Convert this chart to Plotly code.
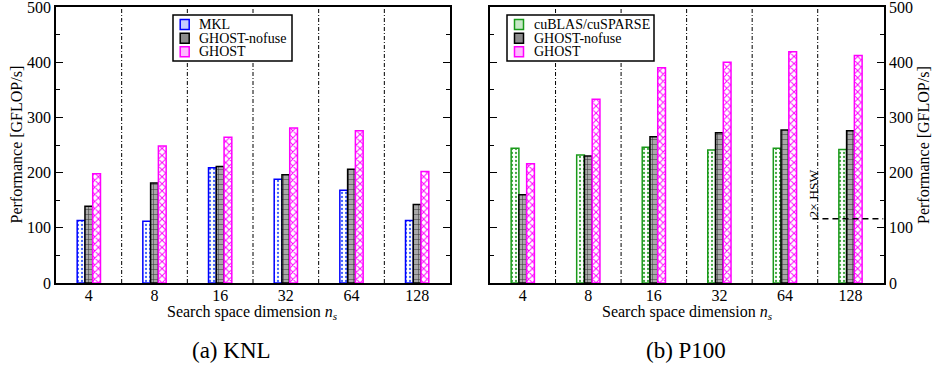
import plotly.graph_objects as go

# ---- data ----
ns = ["4", "8", "16", "32", "64", "128"]
knl_mkl = [113, 112, 209, 188, 168, 113]
knl_nofuse = [139, 181, 211, 196, 206, 142]
knl_ghost = [198, 248, 264, 281, 276, 202]
p100_cublas = [244, 232, 246, 241, 244, 242]
p100_nofuse = [160, 230, 265, 272, 277, 276]
p100_ghost = [216, 333, 390, 400, 419, 412]
hsw2_value = 116.5
knl_series = ["MKL", "GHOST-nofuse", "GHOST"]
p100_series = ["cuBLAS/cuSPARSE", "GHOST-nofuse", "GHOST"]

FONT = "Liberation Serif"

styles = {
    "MKL": dict(line="#0000ff", bg="white", fg="#4060ff", shape=".", size=4, sol=0.25, sym="#c4cbff"),
    "cuBLAS/cuSPARSE": dict(line="#1a9a1a", bg="white", fg="#40a840", shape=".", size=4, sol=0.25, sym="#c8e8c8"),
    "GHOST-nofuse": dict(line="#000000", bg="#a8a8a8", fg="#383838", shape="+", size=5, sol=0.2, sym="#8c8c8c"),
    "GHOST": dict(line="#ff00ff", bg="white", fg="#ff00ff", shape="x", size=5, sol=0.35, sym="#ffb8ff"),
}


def bar(name, y, xa, ya):
    s = styles[name]
    return go.Bar(
        x=ns, y=y, name=name, xaxis=xa, yaxis=ya, showlegend=False,
        marker=dict(
            color=s["bg"],
            line=dict(color=s["line"], width=1.5),
            pattern=dict(shape=s["shape"], fgcolor=s["fg"], bgcolor=s["bg"],
                         size=s["size"], solidity=s["sol"], fillmode="replace"),
        ),
    )


fig = go.Figure()
for name, vals in zip(knl_series, [knl_mkl, knl_nofuse, knl_ghost]):
    fig.add_trace(bar(name, vals, "x", "y"))
for name, vals in zip(p100_series, [p100_cublas, p100_nofuse, p100_ghost]):
    fig.add_trace(bar(name, vals, "x2", "y2"))

W, H = 933, 369
y_dom = [1 - 283 / H, 1 - 7 / H]
x1_dom = [56 / W, 450 / W]
x2_dom = [490 / W, 884 / W]

xcommon = dict(type="category", showline=True, linecolor="black", linewidth=1.5,
               mirror=True, ticks="", showgrid=False, zeroline=False,
               tickfont=dict(family=FONT, size=16, color="black"),
               ticklabelstandoff=-3,
               automargin=False, ticklabeloverflow="allow")
ycommon = dict(range=[0, 500], dtick=100, showline=True, linecolor="black", linewidth=1.5,
               mirror="ticks", ticks="inside", ticklen=7, tickwidth=1.2, tickcolor="black",
               minor=dict(dtick=50, ticks="inside", ticklen=4, tickcolor="black", tickwidth=1),
               showgrid=False, zeroline=False, automargin=False, ticklabeloverflow="allow",
               tickfont=dict(family=FONT, size=16, color="black"))

fig.update_layout(
    width=W, height=H,
    margin=dict(l=0, r=0, t=0, b=0),
    paper_bgcolor="white", plot_bgcolor="white",
    barmode="group", bargap=0.645, bargroupgap=0,
    font=dict(family=FONT, color="black"),
    xaxis=dict(domain=x1_dom, anchor="y", **xcommon),
    yaxis=dict(domain=y_dom, anchor="x", side="left", **ycommon),
    xaxis2=dict(domain=x2_dom, anchor="y2", **xcommon),
    yaxis2=dict(domain=y_dom, anchor="x2", side="right", **ycommon),
    showlegend=False,
)

# vertical dash-dot separators between categories
for xr, yr in [("x", "y domain"), ("x2", "y2 domain")]:
    for i in range(len(ns) - 1):
        fig.add_shape(type="line", xref=xr, yref=yr,
                      x0=i + 0.5, x1=i + 0.5, y0=0, y1=1,
                      line=dict(color="black", width=1, dash="4px,2px,1px,2px"), layer="below")

# 2x HSW reference line
fig.add_shape(type="line", xref="x2", yref="y2", x0=4.42, x1=5.5, y0=hsw2_value, y1=hsw2_value,
              line=dict(color="black", width=1.5, dash="6px,4px"))
fig.add_annotation(xref="paper", yref="paper", x=813 / W, y=1 - 193.5 / H,
                   text="2× HSW", textangle=-90,
                   xanchor="center", yanchor="middle",
                   showarrow=False, font=dict(family=FONT, size=13.5, color="black"))


# legends (box + symbols + labels)
def legend(names, x0, x1, sym_cx, text_x):
    y0, y1 = 15, 61
    fig.add_shape(type="rect", xref="paper", yref="paper",
                  x0=x0 / W, x1=x1 / W, y0=1 - y1 / H, y1=1 - y0 / H,
                  line=dict(color="black", width=1.5), fillcolor="white")
    for name, cy in zip(names, [24.5, 38.2, 51.7]):
        s = styles[name]
        fig.add_shape(type="rect", xref="paper", yref="paper",
                      x0=(sym_cx - 4.5) / W, x1=(sym_cx + 4.5) / W,
                      y0=1 - (cy + 5) / H, y1=1 - (cy - 5) / H,
                      line=dict(color=s["line"], width=1.5), fillcolor=s["sym"])
        fig.add_annotation(xref="paper", yref="paper", x=text_x / W, y=1 - cy / H,
                           xanchor="left", yanchor="middle", text=name, showarrow=False,
                           borderpad=0,
                           font=dict(family=FONT, size=14, color="black"))


legend(knl_series, 173, 292, 184.7, 198)
legend(p100_series, 507, 654, 519, 533)

# axis titles
ymid = 1 - 145 / H
for xc in [15.5, 923]:
    fig.add_annotation(xref="paper", yref="paper", x=xc / W, y=ymid, text="Performance [GFLOP/s]",
                       textangle=-90, xanchor="center", yanchor="middle", showarrow=False,
                       font=dict(family=FONT, size=16, color="black"))
for xc in [253, 687]:
    fig.add_annotation(xref="paper", yref="paper", x=xc / W, y=1 - 312 / H,
                       text="Search space dimension <i>n<sub>s</sub></i>",
                       xanchor="center", yanchor="middle", showarrow=False,
                       font=dict(family=FONT, size=16, color="black"))

# captions
fig.add_annotation(xref="paper", yref="paper", x=231 / W, y=1 - 350 / H, text="(a) KNL",
                   xanchor="center", yanchor="middle",
                   showarrow=False, font=dict(family=FONT, size=23, color="black"))
fig.add_annotation(xref="paper", yref="paper", x=686 / W, y=1 - 350 / H, text="(b) P100",
                   xanchor="center", yanchor="middle",
                   showarrow=False, font=dict(family=FONT, size=23, color="black"))

fig.write_html("out.html", config={"displayModeBar": False},
               post_script="document.body.style.margin='0';document.body.style.overflow='hidden';")
